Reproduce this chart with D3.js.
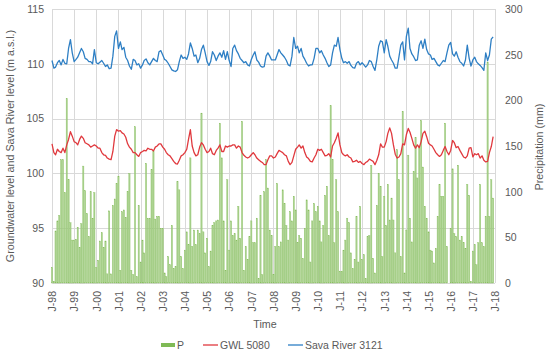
<!DOCTYPE html>
<html>
<head>
<meta charset="utf-8">
<script src="https://cdn.jsdelivr.net/npm/d3@7"></script>
<style>
  html, body { margin: 0; padding: 0; background: #fff; }
  svg text { font-family: "Liberation Sans", Arial, sans-serif; fill: #595959; }
</style>
</head>
<body>
<svg id="chart" width="550" height="355"></svg>
<script>
// ---- Data (monthly, Jan 1998 – Dec 2017) ----
const startYear = 1998;
const xTickLabels = ["J-98","J-99","J-00","J-01","J-02","J-03","J-04","J-05","J-06","J-07",
  "J-08","J-09","J-10","J-11","J-12","J-13","J-14","J-15","J-16","J-17","J-18"];
const leftTicks = [90, 95, 100, 105, 110, 115];
const rightTicks = [0, 50, 100, 150, 200, 250, 300];

// Precipitation P (mm)
const precipitation = [
  17,2,57,68,74,135,135,99,202,113,66,47,
  47,48,61,39,65,128,101,76,51,100,71,99,
  17,25,46,55,39,46,10,79,10,85,92,109,
  117,14,78,80,72,100,120,14,9,171,7,85,
  23,47,33,131,71,71,124,144,70,73,73,60,
  60,11,7,29,20,63,16,18,111,102,29,16,
  36,56,42,137,40,58,42,58,54,186,56,33,
  49,18,35,63,66,68,69,175,137,68,14,113,
  36,68,52,54,47,84,49,177,14,40,26,51,
  68,44,44,71,5,96,9,100,135,104,58,52,
  9,40,109,40,45,102,87,63,47,78,68,95,
  80,44,52,49,27,60,91,80,23,68,87,78,
  84,68,45,63,96,106,52,194,135,44,113,78,
  13,13,36,47,71,66,33,16,26,73,23,84,
  26,31,5,51,52,129,27,11,85,120,106,29,
  95,63,108,69,93,69,33,146,113,29,188,11,
  58,140,71,45,122,159,115,150,178,127,84,71,
  56,36,35,22,38,73,108,95,95,175,40,0,
  60,125,54,51,129,47,51,44,38,108,96,2,
  35,42,20,44,108,44,40,73,242,73,113,93
];

// GWL 5080 (m a.s.l.)
const gwl5080 = [
  102.7,101.9,101.7,102.2,102.0,101.9,102.3,101.9,102.6,103.1,103.8,103.4,
  102.9,102.8,102.6,103.1,103.4,103.2,102.8,102.7,102.6,102.4,102.5,102.6,
  102.5,102.3,102.3,101.9,101.7,101.65,101.4,101.3,101.25,102.0,103.4,104.0,
  103.85,103.9,103.7,103.6,103.3,102.7,102.4,102.2,101.9,101.9,101.7,101.55,
  101.9,102.0,102.1,102.05,102.3,102.2,102.2,102.05,102.4,102.5,102.7,102.7,
  102.4,102.2,101.9,101.7,101.6,101.35,101.1,100.9,100.85,101.2,101.6,101.7,
  101.9,102.2,103.1,104.0,102.5,101.9,101.6,101.7,102.4,102.8,102.6,102.2,
  101.9,102.0,102.3,101.8,101.7,102.1,102.3,102.6,102.0,102.0,102.5,102.4,
  102.5,102.5,102.6,102.6,102.3,102.5,102.4,101.9,101.65,101.5,101.4,101.5,
  101.7,101.9,101.7,101.4,101.25,101.1,101.0,100.8,100.8,101.25,101.6,101.6,
  101.4,101.5,101.8,102.1,102.0,101.9,101.7,101.6,101.1,100.8,101.0,101.6,
  102.2,102.4,102.6,102.3,102.5,101.9,101.5,101.35,101.1,101.05,101.4,101.7,
  102.2,102.1,102.2,101.9,101.6,101.65,101.8,101.5,102.5,102.8,103.2,103.7,
  102.6,101.9,101.7,101.6,101.7,101.5,101.4,101.05,101.1,101.2,101.0,101.1,
  100.9,100.8,101.0,101.1,101.3,101.2,101.1,100.8,101.2,101.7,102.7,102.4,
  102.4,102.9,103.65,104.15,103.65,102.6,101.75,101.4,101.5,101.8,102.7,102.6,
  103.55,104.1,103.75,103.2,102.6,102.3,102.6,102.35,102.9,103.65,103.85,103.35,
  102.75,102.6,102.5,102.2,101.9,101.7,101.55,101.7,102.1,102.45,102.0,101.7,
  102.1,103.0,102.8,102.35,102.45,102.1,101.8,101.5,101.4,101.6,102.3,102.35,
  101.5,101.8,101.7,101.8,101.4,101.6,101.2,101.05,101.1,101.9,102.45,103.35
];

// Sava River 3121 (m a.s.l.)
const sava3121 = [
  110.3,109.6,109.7,110.1,110.3,109.9,110.4,110.05,110.0,111.4,112.2,111.0,
  110.2,110.4,110.6,111.0,111.4,111.1,110.5,110.4,110.2,110.2,110.0,111.3,
  110.1,110.0,110.15,110.3,110.05,109.75,109.9,109.55,109.6,110.7,112.5,113.0,
  111.4,112.0,111.3,111.5,110.6,110.3,109.8,109.5,110.4,110.3,109.9,110.0,
  109.6,109.9,110.3,110.45,110.1,109.9,110.2,110.5,110.3,110.2,111.1,111.2,
  110.8,110.4,110.3,110.05,109.75,109.45,109.35,109.3,109.45,110.2,110.8,110.5,
  110.6,110.4,110.9,111.9,111.4,110.7,110.8,110.1,110.5,111.3,111.7,111.0,
  110.2,109.85,110.2,111.1,110.8,110.3,110.7,111.0,110.6,111.2,110.4,111.1,
  110.3,109.75,111.4,111.7,111.2,110.9,110.5,110.3,110.1,110.2,109.9,109.8,
  110.4,110.8,111.1,110.35,110.15,109.8,109.7,109.75,110.7,111.0,110.7,110.35,
  110.35,110.35,110.8,111.3,111.0,110.8,110.6,110.3,109.9,109.8,110.7,112.4,
  111.4,111.6,111.0,111.4,110.7,110.4,110.05,109.8,109.9,109.9,110.5,111.4,
  111.4,111.0,111.2,110.8,110.5,110.1,109.75,109.9,111.0,111.7,111.6,112.4,
  111.3,110.5,110.1,110.2,110.05,110.2,109.85,109.65,109.6,110.05,110.2,109.9,
  110.1,109.9,109.7,109.9,110.3,110.2,109.75,109.4,110.4,111.6,112.1,112.0,
  111.0,112.2,111.6,110.7,110.35,110.05,109.6,109.6,110.65,111.7,112.0,110.35,
  112.5,113.25,111.4,110.9,110.65,110.3,110.35,111.7,112.1,111.4,112.25,111.3,
  110.9,110.8,110.4,110.5,110.2,109.9,109.8,110.05,110.3,110.2,111.0,111.7,
  111.95,110.9,110.7,111.1,110.6,110.2,110.05,109.8,110.35,111.7,110.5,109.8,
  110.35,110.6,110.2,110.0,109.85,109.65,109.4,111.0,110.3,110.8,112.25,112.45
];

const seriesNames = ["P", "GWL 5080", "Sava River 3121"];

// ---- Build table ----
const months = precipitation.map((p, i) => ({
  date: new Date(startYear, i, 1), p, gwl: gwl5080[i], sava: sava3121[i]
}));
const tickDates = xTickLabels.map((_, k) => new Date(startYear + k, 0, 1));

// ---- Layout ----
const svg = d3.select("#chart");
const plot = { left: 52, right: 495, top: 9, bottom: 283 };
const FS = "10.5px";
const colors = { p: "#a9d18e", pStroke: "#86bd5c", legendP: "#7fba55", gwl: "#e0393e", sava: "#2e7fc4" };

const x = d3.scaleTime().domain([tickDates[0], tickDates[tickDates.length - 1]]).range([plot.left, plot.right]);
const yL = d3.scaleLinear().domain([90, 115]).range([plot.bottom, plot.top]);
const yR = d3.scaleLinear().domain([0, 300]).range([plot.bottom, plot.top]);

// Gridlines
svg.append("g").attr("transform", `translate(${plot.left},0)`)
  .call(d3.axisLeft(yL).tickValues(leftTicks).tickSize(-(plot.right - plot.left)).tickFormat(""))
  .call(g => g.select(".domain").remove())
  .call(g => g.selectAll("line").attr("stroke", "#d9d9d9").attr("stroke-width", 1).attr("shape-rendering", "crispEdges"));
svg.append("g").attr("transform", `translate(0,${plot.bottom})`)
  .call(d3.axisBottom(x).tickValues(tickDates).tickSize(-(plot.bottom - plot.top)).tickFormat(""))
  .call(g => g.select(".domain").remove())
  .call(g => g.selectAll("line").attr("stroke", "#d9d9d9").attr("stroke-width", 1).attr("shape-rendering", "crispEdges"));

// Bars
const bw = 1.25;
svg.append("g").selectAll("rect").data(months).join("rect")
  .attr("x", d => x(d.date) - bw / 2)
  .attr("y", d => yR(d.p))
  .attr("width", bw)
  .attr("height", d => plot.bottom - yR(d.p))
  .attr("fill", colors.p)
  .attr("stroke", colors.pStroke)
  .attr("stroke-width", 0.35);

// Lines
const lineG = d3.line().x(d => x(d.date)).y(d => yL(d.gwl));
const lineS = d3.line().x(d => x(d.date)).y(d => yL(d.sava));
svg.append("path").datum(months).attr("d", lineG)
  .attr("fill", "none").attr("stroke", colors.gwl).attr("stroke-width", 1.3).attr("stroke-linejoin", "round");
svg.append("path").datum(months).attr("d", lineS)
  .attr("fill", "none").attr("stroke", colors.sava).attr("stroke-width", 1.3).attr("stroke-linejoin", "round");

// Axes labels
svg.append("g").attr("transform", `translate(${plot.left},0)`)
  .call(d3.axisLeft(yL).tickValues(leftTicks).tickSize(0).tickPadding(8))
  .call(g => g.select(".domain").remove())
  .call(g => g.selectAll("text").style("font-size", FS).attr("fill", "#595959"));
svg.append("g").attr("transform", `translate(${plot.right},0)`)
  .call(d3.axisRight(yR).tickValues(rightTicks).tickSize(0).tickPadding(10))
  .call(g => g.select(".domain").remove())
  .call(g => g.selectAll("text").style("font-size", FS).attr("fill", "#595959"));
svg.append("g").attr("transform", `translate(0,${plot.bottom})`)
  .call(d3.axisBottom(x).tickValues(tickDates).tickSize(0).tickFormat((d, i) => xTickLabels[i]))
  .call(g => g.select(".domain").remove())
  .call(g => g.selectAll("text")
    .style("font-size", FS).attr("fill", "#595959")
    .attr("transform", "rotate(-90)")
    .attr("x", -8).attr("y", 0).attr("dy", "0.36em")
    .attr("text-anchor", "end"));

// Titles
svg.append("text").attr("transform", "translate(14,146) rotate(-90)")
  .attr("text-anchor", "middle").style("font-size", "10.7px")
  .text("Groundwater level and Sava River level (m a.s.l.)");
svg.append("text").attr("transform", "translate(543,147) rotate(-90)")
  .attr("text-anchor", "middle").style("font-size", "10.7px")
  .text("Precipitation (mm)");
svg.append("text").attr("x", 265).attr("y", 328)
  .attr("text-anchor", "middle").style("font-size", "10.7px").text("Time");

// Legend
const lg = svg.append("g").style("font-size", FS);
lg.append("rect").attr("x", 161).attr("y", 343).attr("width", 14).attr("height", 4).attr("fill", colors.legendP);
lg.append("text").attr("x", 177).attr("y", 348.5).text(seriesNames[0]);
lg.append("line").attr("x1", 203).attr("x2", 218).attr("y1", 345).attr("y2", 345).attr("stroke", colors.gwl).attr("stroke-width", 1.3);
lg.append("text").attr("x", 220).attr("y", 348.5).text(seriesNames[1]);
lg.append("line").attr("x1", 288).attr("x2", 303).attr("y1", 345).attr("y2", 345).attr("stroke", colors.sava).attr("stroke-width", 1.3);
lg.append("text").attr("x", 305).attr("y", 348.5).text(seriesNames[2]);
</script>
</body>
</html>
